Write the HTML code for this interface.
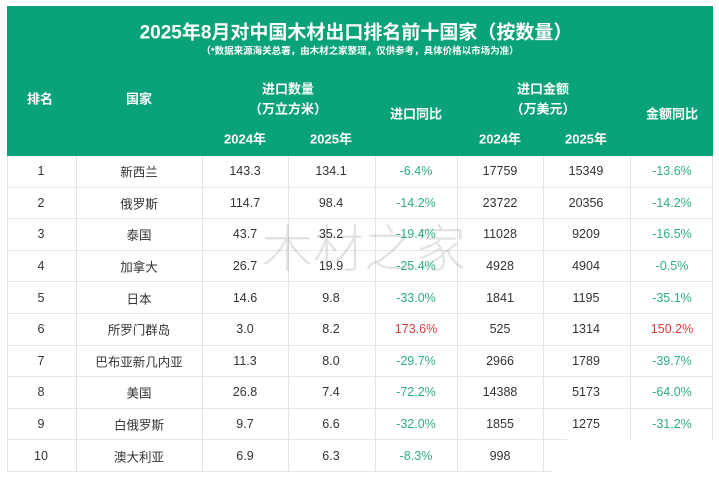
<!DOCTYPE html>
<html>
<head>
<meta charset="utf-8">
<style>
  html,body{margin:0;padding:0;background:#fff;}
  #c{position:relative;width:719px;height:479px;overflow:hidden;background:#fff;
     font-family:"Liberation Sans","Noto Sans CJK SC",sans-serif;}
  .hdr{position:absolute;left:7px;top:6px;width:706px;height:150px;background:#0aa278;}
  .t{position:absolute;white-space:nowrap;text-align:center;transform:translate(-50%,-50%);}
  .w{color:#fff;font-weight:bold;}
  .h{font-size:13px;}
  .d{font-size:12.5px;color:#333;}
  .g{color:#2fae84;}
  .r{color:#e0393b;}
  .vl{position:absolute;width:1px;background:#e2e2e2;}
  .hl{position:absolute;height:1px;background:#e6e6e6;}
  .wm{position:absolute;left:262px;top:208px;font-size:51px;color:rgba(0,0,0,0.11);
      letter-spacing:0px;white-space:nowrap;font-family:"Noto Sans CJK SC",sans-serif;font-weight:300;}
</style>
</head>
<body>
<div id="c">
  <div class="hdr"></div>
  <div class="t w" style="left:356px;top:31px;font-size:19px;">2025年8月对中国木材出口排名前十国家（按数量）</div>
  <div class="t w" style="left:360px;top:50px;font-size:9.5px;">（*数据来源海关总署，由木材之家整理，仅供参考，具体价格以市场为准）</div>

  <div class="t w h" style="left:40px;top:98px;">排名</div>
  <div class="t w h" style="left:139px;top:98px;">国家</div>
  <div class="t w h" style="left:288px;top:88px;">进口数量</div>
  <div class="t w h" style="left:288px;top:108px;">（万立方米）</div>
  <div class="t w h" style="left:245px;top:138px;">2024年</div>
  <div class="t w h" style="left:331px;top:138px;">2025年</div>
  <div class="t w h" style="left:416px;top:113px;">进口同比</div>
  <div class="t w h" style="left:543px;top:88px;">进口金额</div>
  <div class="t w h" style="left:543px;top:108px;">（万美元）</div>
  <div class="t w h" style="left:500px;top:138px;">2024年</div>
  <div class="t w h" style="left:586px;top:138px;">2025年</div>
  <div class="t w h" style="left:672px;top:113px;">金额同比</div>

  <!-- grid lines -->
  <div class="vl" style="left:7px;top:156px;height:316px;"></div>
  <div class="vl" style="left:76px;top:156px;height:316px;"></div>
  <div class="vl" style="left:202px;top:156px;height:316px;"></div>
  <div class="vl" style="left:288px;top:156px;height:316px;"></div>
  <div class="vl" style="left:375px;top:156px;height:316px;"></div>
  <div class="vl" style="left:457px;top:156px;height:316px;"></div>
  <div class="vl" style="left:543px;top:156px;height:316px;"></div>
  <div class="vl" style="left:630px;top:156px;height:284px;"></div>
  <div class="vl" style="left:712px;top:156px;height:284px;"></div>

  <div class="hl" style="left:7px;top:187px;width:706px;"></div>
  <div class="hl" style="left:7px;top:218px;width:706px;"></div>
  <div class="hl" style="left:7px;top:250px;width:706px;"></div>
  <div class="hl" style="left:7px;top:281px;width:706px;"></div>
  <div class="hl" style="left:7px;top:313px;width:706px;"></div>
  <div class="hl" style="left:7px;top:345px;width:706px;"></div>
  <div class="hl" style="left:7px;top:376px;width:706px;"></div>
  <div class="hl" style="left:7px;top:408px;width:706px;"></div>
  <div class="hl" style="left:7px;top:439px;width:560px;"></div>
  <div class="hl" style="left:7px;top:471px;width:545px;"></div>

  <div class="wm">木材之家</div>

  <!-- rows -->
  <div class="t d" style="left:41px;top:171px;">1</div>
  <div class="t d" style="left:139px;top:171px;">新西兰</div>
  <div class="t d" style="left:245px;top:171px;">143.3</div>
  <div class="t d" style="left:331px;top:171px;">134.1</div>
  <div class="t d g" style="left:416px;top:171px;">-6.4%</div>
  <div class="t d" style="left:500px;top:171px;">17759</div>
  <div class="t d" style="left:586px;top:171px;">15349</div>
  <div class="t d g" style="left:672px;top:171px;">-13.6%</div>

  <div class="t d" style="left:41px;top:203px;">2</div>
  <div class="t d" style="left:139px;top:203px;">俄罗斯</div>
  <div class="t d" style="left:245px;top:203px;">114.7</div>
  <div class="t d" style="left:331px;top:203px;">98.4</div>
  <div class="t d g" style="left:416px;top:203px;">-14.2%</div>
  <div class="t d" style="left:500px;top:203px;">23722</div>
  <div class="t d" style="left:586px;top:203px;">20356</div>
  <div class="t d g" style="left:672px;top:203px;">-14.2%</div>

  <div class="t d" style="left:41px;top:234px;">3</div>
  <div class="t d" style="left:139px;top:234px;">泰国</div>
  <div class="t d" style="left:245px;top:234px;">43.7</div>
  <div class="t d" style="left:331px;top:234px;">35.2</div>
  <div class="t d g" style="left:416px;top:234px;">-19.4%</div>
  <div class="t d" style="left:500px;top:234px;">11028</div>
  <div class="t d" style="left:586px;top:234px;">9209</div>
  <div class="t d g" style="left:672px;top:234px;">-16.5%</div>

  <div class="t d" style="left:41px;top:266px;">4</div>
  <div class="t d" style="left:139px;top:266px;">加拿大</div>
  <div class="t d" style="left:245px;top:266px;">26.7</div>
  <div class="t d" style="left:331px;top:266px;">19.9</div>
  <div class="t d g" style="left:416px;top:266px;">-25.4%</div>
  <div class="t d" style="left:500px;top:266px;">4928</div>
  <div class="t d" style="left:586px;top:266px;">4904</div>
  <div class="t d g" style="left:672px;top:266px;">-0.5%</div>

  <div class="t d" style="left:41px;top:298px;">5</div>
  <div class="t d" style="left:139px;top:298px;">日本</div>
  <div class="t d" style="left:245px;top:298px;">14.6</div>
  <div class="t d" style="left:331px;top:298px;">9.8</div>
  <div class="t d g" style="left:416px;top:298px;">-33.0%</div>
  <div class="t d" style="left:500px;top:298px;">1841</div>
  <div class="t d" style="left:586px;top:298px;">1195</div>
  <div class="t d g" style="left:672px;top:298px;">-35.1%</div>

  <div class="t d" style="left:41px;top:329px;">6</div>
  <div class="t d" style="left:139px;top:329px;">所罗门群岛</div>
  <div class="t d" style="left:245px;top:329px;">3.0</div>
  <div class="t d" style="left:331px;top:329px;">8.2</div>
  <div class="t d r" style="left:416px;top:329px;">173.6%</div>
  <div class="t d" style="left:500px;top:329px;">525</div>
  <div class="t d" style="left:586px;top:329px;">1314</div>
  <div class="t d r" style="left:672px;top:329px;">150.2%</div>

  <div class="t d" style="left:41px;top:361px;">7</div>
  <div class="t d" style="left:139px;top:361px;">巴布亚新几内亚</div>
  <div class="t d" style="left:245px;top:361px;">11.3</div>
  <div class="t d" style="left:331px;top:361px;">8.0</div>
  <div class="t d g" style="left:416px;top:361px;">-29.7%</div>
  <div class="t d" style="left:500px;top:361px;">2966</div>
  <div class="t d" style="left:586px;top:361px;">1789</div>
  <div class="t d g" style="left:672px;top:361px;">-39.7%</div>

  <div class="t d" style="left:41px;top:392px;">8</div>
  <div class="t d" style="left:139px;top:392px;">美国</div>
  <div class="t d" style="left:245px;top:392px;">26.8</div>
  <div class="t d" style="left:331px;top:392px;">7.4</div>
  <div class="t d g" style="left:416px;top:392px;">-72.2%</div>
  <div class="t d" style="left:500px;top:392px;">14388</div>
  <div class="t d" style="left:586px;top:392px;">5173</div>
  <div class="t d g" style="left:672px;top:392px;">-64.0%</div>

  <div class="t d" style="left:41px;top:424px;">9</div>
  <div class="t d" style="left:139px;top:424px;">白俄罗斯</div>
  <div class="t d" style="left:245px;top:424px;">9.7</div>
  <div class="t d" style="left:331px;top:424px;">6.6</div>
  <div class="t d g" style="left:416px;top:424px;">-32.0%</div>
  <div class="t d" style="left:500px;top:424px;">1855</div>
  <div class="t d" style="left:586px;top:424px;">1275</div>
  <div class="t d g" style="left:672px;top:424px;">-31.2%</div>

  <div class="t d" style="left:41px;top:456px;">10</div>
  <div class="t d" style="left:139px;top:456px;">澳大利亚</div>
  <div class="t d" style="left:245px;top:456px;">6.9</div>
  <div class="t d" style="left:331px;top:456px;">6.3</div>
  <div class="t d g" style="left:416px;top:456px;">-8.3%</div>
  <div class="t d" style="left:500px;top:456px;">998</div>
</div>
</body>
</html>
